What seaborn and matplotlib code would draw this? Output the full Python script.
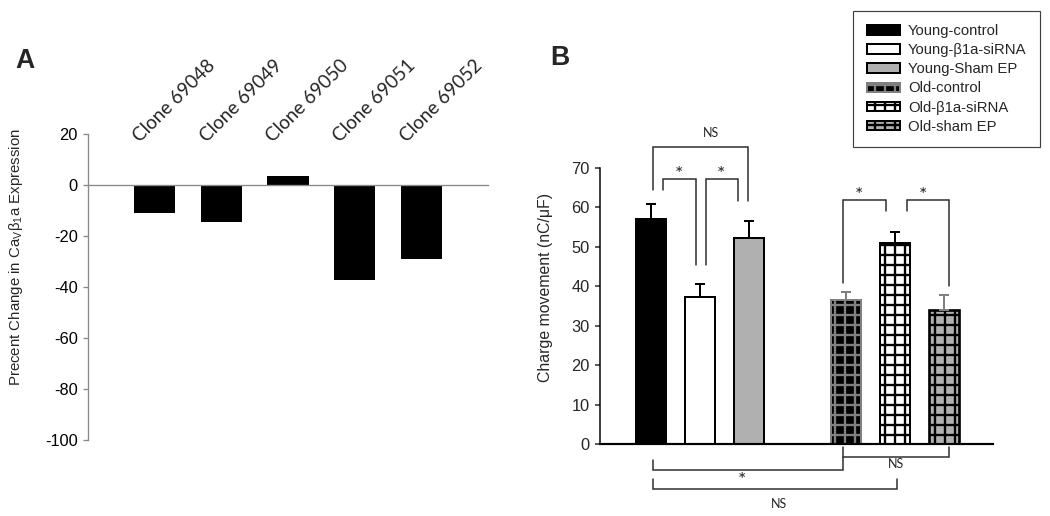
import matplotlib
matplotlib.use('Agg')
import matplotlib.pyplot as plt
import matplotlib.patches as mpatches
import seaborn as sns
import pandas as pd

# Panel A data
clones = ['Clone 69048', 'Clone 69049', 'Clone 69050', 'Clone 69051', 'Clone 69052']
pct_change = [-11.0, -14.4, 3.8, -37.2, -29.0]

# Panel B data
groups = ['Young-control', 'Young-β1a-siRNA', 'Young-Sham EP',
          'Old-control', 'Old-β1a-siRNA', 'Old-sham EP']
charge = [56.9, 37.3, 52.2, 36.5, 50.8, 34.0]
charge_sem = [3.9, 3.2, 4.4, 2.1, 2.8, 3.7]
order_b = groups[:3] + [' '] + groups[3:]

# styles per group: face, edge, hatch
face_cols = ['black', 'white', '#b0b0b0', 'black', 'white', '#b0b0b0']
edge_cols = ['black', 'black', 'black', '#808080', 'black', 'black']
hatches = [None, None, None, '++', '++', '++']
err_cols = ['black', 'black', 'black', '#808080', 'black', '#808080']

sns.set_style('ticks')
plt.rcParams['font.family'] = ['Liberation Sans', 'DejaVu Sans']
plt.rcParams['mathtext.fontset'] = 'custom'
plt.rcParams['mathtext.rm'] = 'Liberation Sans'
plt.rcParams['axes.unicode_minus'] = False
plt.rcParams['hatch.linewidth'] = 1.4

fig = plt.figure(figsize=(8.75, 4.3), dpi=120)

# ---------------- Panel A ----------------
axA = fig.add_axes([0.0838, 0.1473, 0.381, 0.5924])
df_a = pd.DataFrame({'clone': clones, 'pct': pct_change})
sns.barplot(data=df_a, x='clone', y='pct', color='black', width=0.62,
            saturation=1, errorbar=None, ax=axA)
for p in axA.patches:
    p.set_edgecolor('none')
axA.set_xlim(-1, 5)
axA.set_ylim(-100, 20)
axA.set_yticks(range(-100, 21, 20))
axA.set_xticks([])
axA.set_xlabel('')
for s in ['top', 'right']:
    axA.spines[s].set_visible(False)
axA.spines['bottom'].set_position(('data', 0))
for s in ['left', 'bottom']:
    axA.spines[s].set_color('#8a8a8a')
    axA.spines[s].set_linewidth(0.8)
axA.tick_params(axis='y', colors='#8a8a8a', labelcolor='black', length=3,
                width=0.8, labelsize=9.8, pad=3)
axA.set_ylabel(r'Precent Change in Ca$_{\mathregular{V}}$β$_{\mathregular{1}}$a Expression',
               fontsize=9.0)
axA.yaxis.set_label_coords(-0.1575, 0.60)
for i, name in enumerate(clones):
    axA.text(i - 0.22, 16.6, name, rotation=45, rotation_mode='anchor',
             ha='left', va='baseline', fontsize=11.3, family='Lato')

# ---------------- Panel B ----------------
axB = fig.add_axes([0.5714, 0.1395, 0.374, 0.5355])
df_b = pd.DataFrame({'group': groups, 'charge': charge})
sns.barplot(data=df_b, x='group', y='charge', order=order_b, color='black',
            width=0.62, saturation=1, errorbar=None, ax=axB)
pos = {name: order_b.index(name) for name in groups}
for p in axB.patches:
    cx = p.get_x() + p.get_width() / 2
    k = [g for g in groups if abs(pos[g] - cx) < 0.3]
    if not k:
        continue
    j = groups.index(k[0])
    p.set_facecolor(face_cols[j])
    p.set_edgecolor(edge_cols[j])
    p.set_linewidth(1.6 if j == 5 else 1.2)
    if hatches[j]:
        p.set_hatch(hatches[j])

for j, g in enumerate(groups):
    axB.errorbar(pos[g], charge[j], yerr=[[0], [charge_sem[j]]], fmt='none',
                 ecolor=err_cols[j], elinewidth=1.2, capsize=3, capthick=1.2,
                 zorder=3)

axB.set_xlim(-1.05, 7.0)
axB.set_ylim(0, 70)
axB.set_yticks(range(0, 71, 10))
axB.set_xticks([])
axB.set_xlabel('')
for s in ['top', 'right']:
    axB.spines[s].set_visible(False)
axB.spines['left'].set_linewidth(0.9)
axB.spines['bottom'].set_linewidth(1.3)
axB.spines['left'].set_color('black')
axB.spines['bottom'].set_color('black')
axB.tick_params(axis='y', length=3, width=0.9, labelsize=9.8, pad=3)
axB.set_ylabel('Charge movement (nC/μF)', fontsize=9.5)
axB.yaxis.set_label_coords(-0.12, 0.566)

# significance brackets: (x1, x2, y_bar, y_left_end, y_right_end)
brackets = [
    (0.03, 1.99, 75.3, 64.4, 61.6),
    (0.25, 0.92, 67.1, 64.4, 45.4),
    (1.12, 1.78, 67.1, 45.4, 61.6),
    (3.93, 4.82, 61.7, 40.7, 59.0),
    (5.24, 6.10, 61.7, 59.0, 40.0),
    (3.93, 6.10, -3.2, -0.7, -0.7),
    (0.03, 3.93, -6.6, -4.05, -3.2),
    (0.03, 5.03, -11.4, -8.9, -8.9),
]
for x1, x2, yb, yl, yr in brackets:
    axB.plot([x1, x1, x2, x2], [yl, yb, yb, yr], color='#2a2a2a', lw=0.9,
             clip_on=False, solid_joinstyle='miter')

marks = [
    (1.23, 78.8, 'NS', 7.5),
    (0.58, 68.4, '*', 12),
    (1.44, 68.4, '*', 12),
    (4.26, 63.0, '*', 12),
    (5.57, 63.0, '*', 12),
    (5.01, -5.1, 'NS', 7.5),
    (1.86, -9.2, '*', 12),
    (2.63, -15.3, 'NS', 7.5),
]
for x, y, t, fs in marks:
    axB.text(x, y, t, ha='center', va='center', fontsize=fs, family='Lato',
             clip_on=False)

# legend
handles = []
for j, g in enumerate(groups):
    handles.append(mpatches.Patch(facecolor=face_cols[j], edgecolor=edge_cols[j],
                                  hatch=hatches[j], linewidth=1.2, label=g))
leg = fig.legend(handles=handles, loc='upper right',
                 bbox_to_anchor=(1040 / 1050, 1 - 11 / 516), fontsize=8.9,
                 frameon=True, fancybox=False, framealpha=1, edgecolor='#404040',
                 handlelength=2.25, handleheight=0.6, labelspacing=0.34,
                 borderpad=0.9, handletextpad=0.55, borderaxespad=0)
leg.get_frame().set_linewidth(0.7)

# panel letters
fig.text(0.0143, 0.868, 'A', fontsize=16, fontweight='bold')
fig.text(0.5238, 0.874, 'B', fontsize=16, fontweight='bold')

fig.savefig('out.png', dpi=120)
